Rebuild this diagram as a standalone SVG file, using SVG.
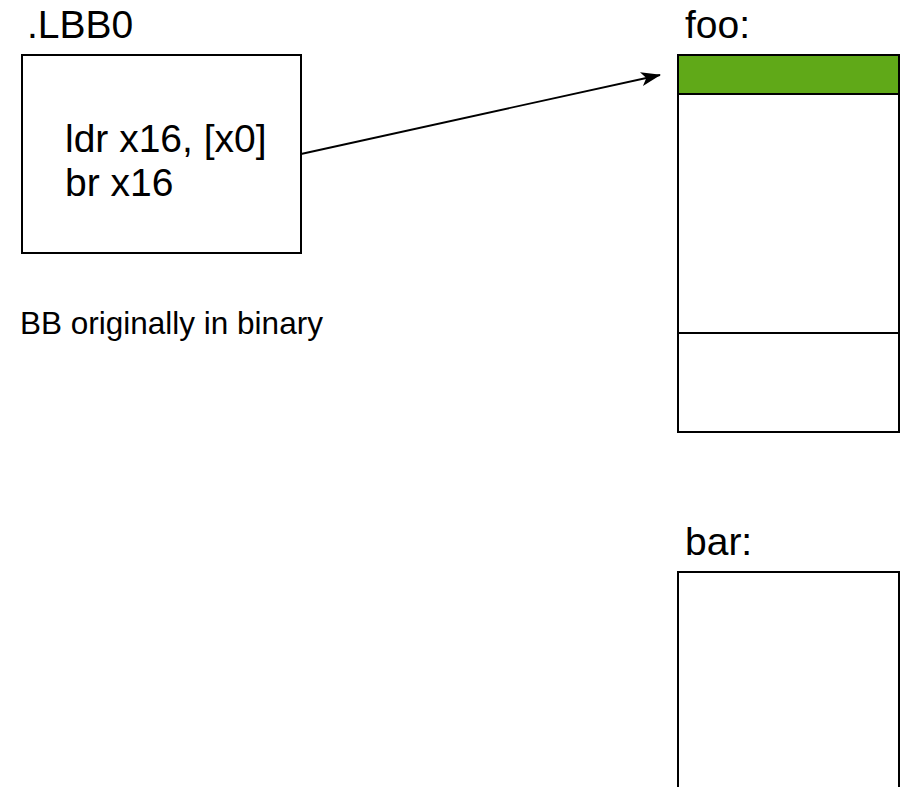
<svg xmlns="http://www.w3.org/2000/svg" width="904" height="787" viewBox="0 0 904 787">
  <style>
    .lbl { font-family: "Liberation Sans", Arial, Helvetica, sans-serif; fill: #000; }
    .big { font-size: 39px; }
    .small { font-size: 31.5px; }
    .box { fill: #fff; stroke: #000; stroke-width: 2; }
    .edge { fill: none; stroke: #000; stroke-width: 1.8; }
  </style>
  <defs>
    <!-- classic notched arrowhead -->
    <marker id="arrowhead" viewBox="0 0 20 14" refX="19" refY="7" markerWidth="20" markerHeight="14" markerUnits="userSpaceOnUse" orient="auto">
      <path d="M0,0 L20,7 L0,14 L5,7 Z" fill="#000"/>
    </marker>
  </defs>
  <rect width="904" height="787" fill="#fff"/>

  <!-- basic block .LBB0 -->
  <g id="lbb0">
    <text class="lbl big" x="27" y="38">.LBB0</text>
    <rect class="box" x="22" y="55" width="279" height="198"/>
    <text class="lbl big" x="65" y="152">ldr x16, [x0]</text>
    <text class="lbl big" x="65" y="196">br x16</text>
  </g>

  <g id="caption">
    <text class="lbl small" x="20" y="334">BB originally in binary</text>
  </g>

  <!-- function foo -->
  <g id="foo">
    <text class="lbl big" x="685" y="38">foo:</text>
    <rect class="box" x="678" y="55" width="221" height="377"/>
    <rect x="678" y="55" width="221" height="39" fill="#60a918" stroke="#000" stroke-width="2"/>
    <line x1="678" y1="333" x2="899" y2="333" stroke="#000" stroke-width="2"/>
  </g>

  <!-- function bar -->
  <g id="bar">
    <text class="lbl big" x="685" y="555">bar:</text>
    <rect class="box" x="678" y="572" width="221" height="230"/>
  </g>

  <g id="connectors">
    <line class="edge" x1="301" y1="154" x2="660" y2="75" marker-end="url(#arrowhead)"/>
  </g>
</svg>
